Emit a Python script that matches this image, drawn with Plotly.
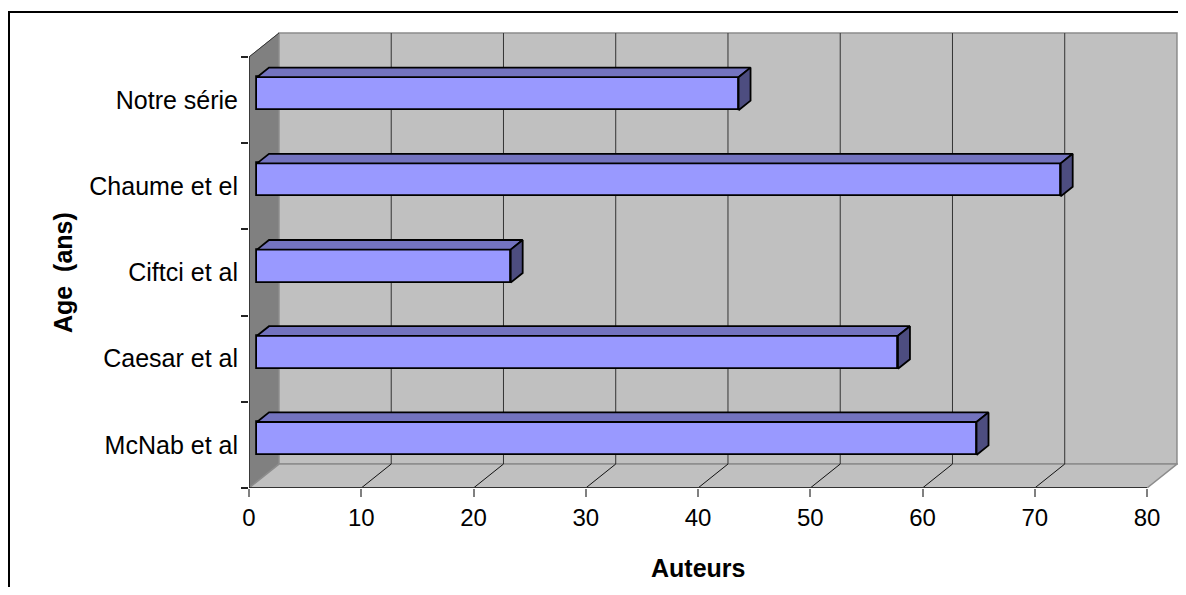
import plotly.graph_objects as go

# ---- data ----
categories = ["McNab et al", "Caesar et al", "Ciftci et al", "Chaume et el", "Notre série"]
ages = [64.1, 57.1, 22.6, 71.6, 42.9]
x_ticks = [0, 10, 20, 30, 40, 50, 60, 70, 80]

# ---- 3D look parameters (in axis units) ----
X_MAX = 80
DX = 2.67      # depth offset along x
DY = 0.278     # depth offset along y (category units)
F = 0.267      # bar front-face depth position
BD = 0.40      # bar depth fraction
H = 0.383      # bar thickness (category units)
Y0, Y1 = -0.5, len(categories) - 0.5

FRONT = "#9999FF"
TOP = "#7373BF"
SIDE = "#4D4D80"

# page body has an 8px margin; figure sized so the plot lands where wanted
W, HGT = 1178, 579
ML, MR, MT, MB = 241, 4, 17, 99
PX_PER_X = 11.225
PX_PER_Y = 86.2

fig = go.Figure()

centers = list(range(len(categories)))

# front faces
fig.add_trace(go.Bar(
    orientation="h",
    y=[c + F * DY for c in centers],
    x=ages,
    base=[F * DX] * len(ages),
    width=H,
    marker=dict(color=FRONT, line=dict(color="black", width=1.8)),
    hoverinfo="skip",
    showlegend=False,
))

# top & side faces
for c, v in zip(centers, ages):
    x0 = F * DX
    x1 = v + F * DX
    yt = c + F * DY + H / 2
    yb = c + F * DY - H / 2
    ox, oy = BD * DX, BD * DY
    fig.add_trace(go.Scatter(
        x=[x0, x1, x1 + ox, x0 + ox, x0],
        y=[yt, yt, yt + oy, yt + oy, yt],
        fill="toself", fillcolor=TOP, mode="lines",
        line=dict(color="black", width=1.8),
        hoverinfo="skip", showlegend=False,
    ))
    fig.add_trace(go.Scatter(
        x=[x1, x1, x1 + ox, x1 + ox, x1],
        y=[yb, yt, yt + oy, yb + oy, yb],
        fill="toself", fillcolor=SIDE, mode="lines",
        line=dict(color="black", width=1.8),
        hoverinfo="skip", showlegend=False,
    ))

shapes = []
# side wall
shapes.append(dict(type="path", xref="x", yref="y", layer="below",
                   path=f"M0,{Y0} L0,{Y1} L{DX},{Y1+DY} L{DX},{Y0+DY} Z",
                   fillcolor="#808080", line=dict(color="#808080", width=1)))
# back wall
shapes.append(dict(type="path", xref="x", yref="y", layer="below",
                   path=f"M{DX},{Y0+DY} L{DX},{Y1+DY} L{X_MAX+DX},{Y1+DY} L{X_MAX+DX},{Y0+DY} Z",
                   fillcolor="#C0C0C0", line=dict(color="#8C8C8C", width=1.5)))
# floor
shapes.append(dict(type="path", xref="x", yref="y", layer="below",
                   path=f"M0,{Y0} L{DX},{Y0+DY} L{X_MAX+DX},{Y0+DY} L{X_MAX},{Y0} Z",
                   fillcolor="#C0C0C0", line=dict(color="#8C8C8C", width=1.5)))
# gridlines on wall and floor
for t in x_ticks[1:-1]:
    shapes.append(dict(type="line", xref="x", yref="y", layer="below",
                       x0=t + DX, x1=t + DX, y0=Y0 + DY, y1=Y1 + DY,
                       line=dict(color="#333333", width=1)))
    shapes.append(dict(type="line", xref="x", yref="y", layer="below",
                       x0=t, x1=t + DX, y0=Y0, y1=Y0 + DY,
                       line=dict(color="#111111", width=1)))
# side wall top edge
shapes.append(dict(type="line", xref="x", yref="y", layer="below",
                   x0=0, x1=DX, y0=Y1, y1=Y1 + DY,
                   line=dict(color="#333333", width=1)))
# front floor edge (x axis line)
shapes.append(dict(type="line", xref="x", yref="y",
                   x0=0, x1=X_MAX, y0=Y0, y1=Y0,
                   line=dict(color="#333333", width=2)))
# front y axis line
shapes.append(dict(type="line", xref="x", yref="y",
                   x0=0, x1=0, y0=Y0, y1=Y1,
                   line=dict(color="#222222", width=1.5)))

plot_w = W - ML - MR
plot_h = HGT - MT - MB
# chart area border (page x=8, y=12)
bx = (9 - 8 - ML) / plot_w
by = 1 + (MT - (12 - 8)) / plot_h
shapes.append(dict(type="rect", xref="paper", yref="paper",
                   x0=bx, x1=1.2, y0=-0.5, y1=by,
                   line=dict(color="black", width=2), fillcolor="rgba(0,0,0,0)"))

def px_to_paper_x(px):
    return (px - 8 - ML) / plot_w

def px_to_paper_y(py):
    return (HGT - MB - (py - 8)) / plot_h

fig.update_layout(
    width=W, height=HGT,
    margin=dict(l=ML, r=MR, t=MT, b=MB),
    paper_bgcolor="white", plot_bgcolor="white",
    font=dict(family="Liberation Sans, Arial, sans-serif", size=24, color="black"),
    shapes=shapes,
    bargap=0,
    annotations=[
        dict(text="<b>Age  (ans)</b>", xref="paper", yref="paper",
             x=px_to_paper_x(63), y=px_to_paper_y(273), textangle=-90, showarrow=False,
             xanchor="center", yanchor="middle", font=dict(size=25)),
        dict(text="<b>Auteurs</b>", xref="paper", yref="paper",
             x=px_to_paper_x(698), y=px_to_paper_y(568), showarrow=False,
             xanchor="center", yanchor="middle", font=dict(size=25)),
    ],
)

fig.update_xaxes(
    range=[0, plot_w / PX_PER_X],
    tickmode="array", tickvals=x_ticks, ticktext=[str(t) for t in x_ticks],
    ticks="outside", ticklen=8, tickcolor="#808080", tickwidth=1.5,
    tickfont=dict(size=24),
    showgrid=False, zeroline=False, showline=False,
    ticklabelstandoff=0,
    fixedrange=True,
)
fig.update_yaxes(
    range=[Y0, Y0 + plot_h / PX_PER_Y],
    tickmode="array", tickvals=centers, ticktext=categories,
    ticks="outside", ticklen=2, tickcolor="rgba(0,0,0,0)",
    tickfont=dict(size=25),
    minor=dict(tickvals=[i - 0.5 for i in range(len(categories) + 1)],
               ticks="outside", ticklen=7, tickcolor="#222222", tickwidth=1.5,
               showgrid=False),
    showgrid=False, zeroline=False, showline=False,
    ticklabelstandoff=3,
    fixedrange=True,
)

fig.write_html("out.html")
